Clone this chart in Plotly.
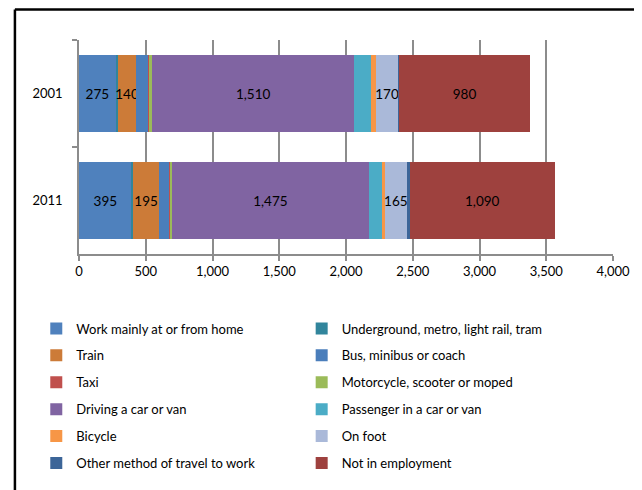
import plotly.graph_objects as go

years = ["2001", "2011"]

modes = [
    "Work mainly at or from home",
    "Underground, metro, light rail, tram",
    "Train",
    "Bus, minibus or coach",
    "Taxi",
    "Motorcycle, scooter or moped",
    "Driving a car or van",
    "Passenger in a car or van",
    "Bicycle",
    "On foot",
    "Other method of travel to work",
    "Not in employment",
]

# values per mode: [2001, 2011]
values = {
    "Work mainly at or from home": [275, 395],
    "Underground, metro, light rail, tram": [15, 10],
    "Train": [140, 195],
    "Bus, minibus or coach": [90, 80],
    "Taxi": [8, 4],
    "Motorcycle, scooter or moped": [22, 12],
    "Driving a car or van": [1510, 1475],
    "Passenger in a car or van": [128, 100],
    "Bicycle": [35, 20],
    "On foot": [170, 165],
    "Other method of travel to work": [5, 20],
    "Not in employment": [980, 1090],
}

# which segments carry a data label
labelled = {"Work mainly at or from home", "Train", "Driving a car or van",
            "On foot", "Not in employment"}

colors = {
    "Work mainly at or from home": "#4F81BD",
    "Underground, metro, light rail, tram": "#31859C",
    "Train": "#CC7B38",
    "Bus, minibus or coach": "#4A7EBB",
    "Taxi": "#C0504D",
    "Motorcycle, scooter or moped": "#9BBB59",
    "Driving a car or van": "#8064A2",
    "Passenger in a car or van": "#4BACC6",
    "Bicycle": "#F79646",
    "On foot": "#AAB9D9",
    "Other method of travel to work": "#3C6598",
    "Not in employment": "#9E413E",
}

FONT = "Lato"

fig = go.Figure()
for i, m in enumerate(modes):
    vals = values[m]
    txt = [f"{v:,}" for v in vals] if m in labelled else ["" for v in vals]
    fig.add_trace(go.Bar(
        y=years, x=vals, name=m, orientation="h",
        marker=dict(color=colors[m], line=dict(width=0)),
        text=txt, textposition="inside", insidetextanchor="middle",
        constraintext="none", textangle=0,
        textfont=dict(family=FONT, size=13.5, color="black"),
        width=0.72,
        legend="legend" if i % 2 == 0 else "legend2",
        legendgroup=m,
    ))

legend_common = dict(
    orientation="v", traceorder="grouped", tracegroupgap=7,
    font=dict(family=FONT, size=13, color="black"),
    bgcolor="rgba(0,0,0,0)", yanchor="top", y=-0.278,
)

# page body has an 8px margin, so the figure is 8px smaller than the window
fig.update_layout(
    width=634, height=482,
    barmode="stack",
    bargap=0.28,
    plot_bgcolor="white", paper_bgcolor="white",
    margin=dict(l=71, r=21, t=32, b=222),
    font=dict(family=FONT, size=13, color="black"),
    legend=dict(x=-0.08, xanchor="left", **legend_common),
    legend2=dict(x=0.417, xanchor="left", **legend_common),
    shapes=[
        # outer frame: only its left and top edges fall inside the page
        dict(type="line", xref="paper", yref="paper",
             x0=-0.12, x1=-0.12, y0=-1.5, y1=1.143,
             line=dict(color="black", width=2.5), layer="below"),
        dict(type="line", xref="paper", yref="paper",
             x0=-0.12, x1=1.5, y0=1.143, y1=1.143,
             line=dict(color="black", width=2.5), layer="below"),
    ],
)

fig.update_xaxes(
    range=[0, 4000], dtick=500, tickformat=",",
    showgrid=True, gridcolor="#8C8C8C", gridwidth=1.5,
    showline=True, linecolor="#8C8C8C", linewidth=1.5,
    ticks="outside", ticklen=5, tickcolor="#8C8C8C", tickwidth=1.5,
    zeroline=False, tickfont=dict(family=FONT, size=13),
)
fig.update_yaxes(
    type="category", autorange="reversed",
    showline=True, linecolor="#8C8C8C", linewidth=1.5,
    ticks="outside", ticklen=5, tickcolor="#8C8C8C", tickwidth=1.5,
    tickson="boundaries", showgrid=False,
    ticklabelstandoff=12,
    tickfont=dict(family=FONT, size=13),
)

fig.write_html("out.html")
